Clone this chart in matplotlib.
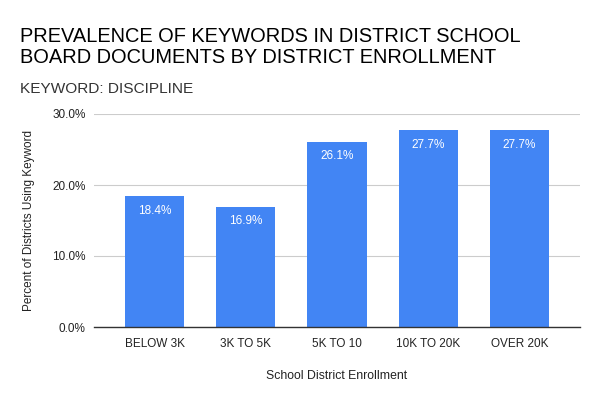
import matplotlib
matplotlib.use("Agg")
import matplotlib.pyplot as plt
from matplotlib.ticker import FuncFormatter

categories = ["BELOW 3K", "3K TO 5K", "5K TO 10", "10K TO 20K", "OVER 20K"]
values = [0.184, 0.169, 0.261, 0.277, 0.277]
labels = ["18.4%", "16.9%", "26.1%", "27.7%", "27.7%"]
yticks = [0.0, 0.1, 0.2, 0.3]
title_lines = ["PREVALENCE OF KEYWORDS IN DISTRICT SCHOOL",
               "BOARD DOCUMENTS BY DISTRICT ENROLLMENT"]
subtitle = "KEYWORD: DISCIPLINE"

plt.rcParams['font.family'] = ['Liberation Sans', 'DejaVu Sans']

fig = plt.figure(figsize=(6, 4), dpi=100)
ax = fig.add_axes([94/600, 1-327/400, (580-94)/600, (327-114)/400])

x = list(range(len(categories)))
ax.bar(x, values, width=0.65, color="#4285F4", zorder=3)
for xi, v, lab in zip(x, values, labels):
    ax.annotate(lab, (xi, v), xytext=(0, -6), textcoords="offset points",
                ha="center", va="top", color="white", fontsize=8.5)

ax.set_xlim(-0.665, 4.665)
ax.set_ylim(0, 0.30)
ax.set_yticks(yticks)
ax.yaxis.set_major_formatter(FuncFormatter(lambda v, p: f"{v*100:.1f}%"))
ax.set_xticks(x)
ax.set_xticklabels(categories)
ax.grid(axis="y", color="#cccccc", linewidth=0.8, zorder=0)
for s in ["top", "right", "left"]:
    ax.spines[s].set_visible(False)
ax.spines["bottom"].set_color("#333333")
ax.spines["bottom"].set_linewidth(1.0)
ax.spines["bottom"].set_zorder(4)
ax.tick_params(axis="both", length=0, labelsize=8.5, colors="#222222")
ax.tick_params(axis="y", pad=6)
ax.tick_params(axis="x", pad=8)
ax.set_xlabel("School District Enrollment", fontsize=8.8, color="#222222", labelpad=14)
ax.set_ylabel("Percent of Districts Using Keyword", fontsize=8.5, color="#222222", labelpad=12)

fig.text(20/600, 1-42/400, title_lines[0], fontsize=14.4, color="#000000",
         va="baseline", ha="left")
fig.text(20/600, 1-63/400, title_lines[1], fontsize=14.4, color="#000000",
         va="baseline", ha="left")
fig.text(20/600, 1-93/400, subtitle, fontsize=11.1, color="#333333",
         va="baseline", ha="left")

fig.savefig("out.png", dpi=100)
